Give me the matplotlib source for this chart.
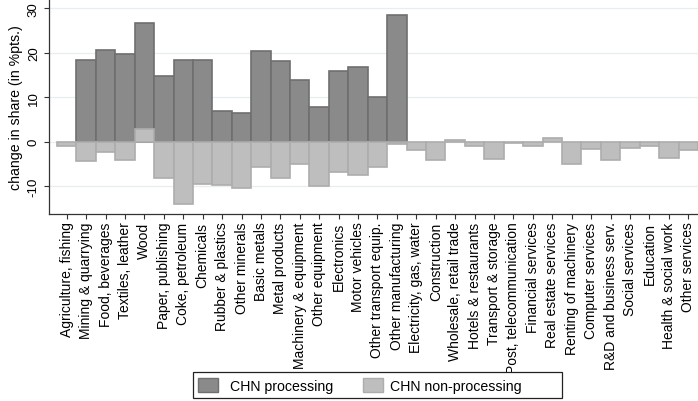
import numpy as np
import matplotlib
matplotlib.use("Agg")
import matplotlib.pyplot as plt
from matplotlib.patches import Rectangle

plt.rcParams['font.family'] = ['Liberation Sans', 'DejaVu Sans']

sectors = [
    "Agriculture, fishing", "Mining & quarrying", "Food, beverages",
    "Textiles, leather", "Wood", "Paper, publishing", "Coke, petroleum",
    "Chemicals", "Rubber & plastics", "Other minerals", "Basic metals",
    "Metal products", "Machinery & equipment", "Other equipment",
    "Electronics", "Motor vehicles", "Other transport equip.",
    "Other manufacturing", "Electricity, gas, water", "Construction",
    "Wholesale, retail trade", "Hotels & restaurants", "Transport & storage",
    "Post, telecommunication", "Financial services", "Real estate services",
    "Renting of machinery", "Computer services", "R&D and business serv.",
    "Social services", "Education", "Health & social work", "Other services",
]

processing = [
    np.nan, 18.4, 20.7, 19.6, 26.6, 14.8, 18.3, 18.4, 7.0, 6.5, 20.3,
    18.1, 13.9, 7.9, 15.8, 16.9, 10.1, 28.4,
    np.nan, np.nan, np.nan, np.nan, np.nan, np.nan, np.nan, np.nan,
    np.nan, np.nan, np.nan, np.nan, np.nan, np.nan, np.nan,
]

non_processing = [
    -0.9, -4.4, -2.4, -4.2, 2.8, -8.2, -14.0, -9.4, -9.7, -10.3, -5.6,
    -8.2, -4.9, -9.9, -6.8, -7.5, -5.7, -0.6,
    -1.9, -4.2, 0.3, -1.0, -3.9, -0.4, -1.0, 0.75,
    -4.9, -1.6, -4.2, -1.4, -1.0, -3.7, -1.9,
]

series_labels = ["CHN processing", "CHN non-processing"]
yticks = [-10, 0, 10, 20, 30]

dark_fill, dark_edge = "#8a8a8a", "#6f6f6f"
light_fill, light_edge = "#bebebe", "#adadad"

W, H = 698, 402
fig = plt.figure(figsize=(W / 100, H / 100), dpi=100)


def fx(px):
    return px / W


def fy(py):
    return 1 - py / H


ax_left, ax_bottom = 49, 214.5
ax_width = W - ax_left
ax = fig.add_axes([fx(ax_left), fy(ax_bottom), fx(ax_width), ax_bottom / H])

x = np.arange(len(sectors))
ax.bar(x, processing, width=1.0, color=dark_fill, edgecolor=dark_edge,
       linewidth=1.2, zorder=2)
ax.bar(x, non_processing, width=1.0, color=light_fill, edgecolor=light_edge,
       linewidth=1.2, zorder=3)

ax.set_xlim(-0.91, len(sectors) - 0.5)
ax.set_ylim(-16.13, 32.07)

ax.set_yticks(yticks)
ax.set_yticklabels([str(v) for v in yticks], rotation=90, va="center",
                   fontsize=9.5)
ax.yaxis.grid(True, color="#e6eef0", linewidth=0.9, zorder=0)
ax.set_axisbelow(True)
ax.set_ylabel("change in share (in %pts.)", fontsize=10.2, va="center")
ax.yaxis.set_label_coords((16.5 - ax_left) / ax_width, 0.5)

ax.set_xticks(x)
ax.set_xticklabels(sectors, rotation=90, ha="center", va="top", fontsize=10)
ax.tick_params(axis="both", length=3.6, width=0.8, color="#333333", pad=2.2)
ax.tick_params(axis="y", pad=3.0)

for side in ("top", "right"):
    ax.spines[side].set_visible(False)
for side in ("left", "bottom"):
    ax.spines[side].set_color("#333333")
    ax.spines[side].set_linewidth(0.9)

# legend box drawn below the category labels
frame = Rectangle((fx(193), fy(399)), fx(562 - 193), (399 - 373) / H,
                  transform=fig.transFigure, facecolor="white",
                  edgecolor="#222222", linewidth=0.9, zorder=5)
fig.add_artist(frame)
keys = [(198, 230, dark_fill, dark_edge), (363, 390, light_fill, light_edge)]
for (kx, tx, fc, ec), label in zip(keys, series_labels):
    fig.add_artist(Rectangle((fx(kx), fy(393)), fx(20), 14 / H,
                             transform=fig.transFigure, facecolor=fc,
                             edgecolor=ec, linewidth=1.0, zorder=6))
    fig.text(fx(tx), fy(386), label, ha="left", va="center_baseline",
             fontsize=10.2, zorder=6)

fig.savefig("out.png", dpi=100)
